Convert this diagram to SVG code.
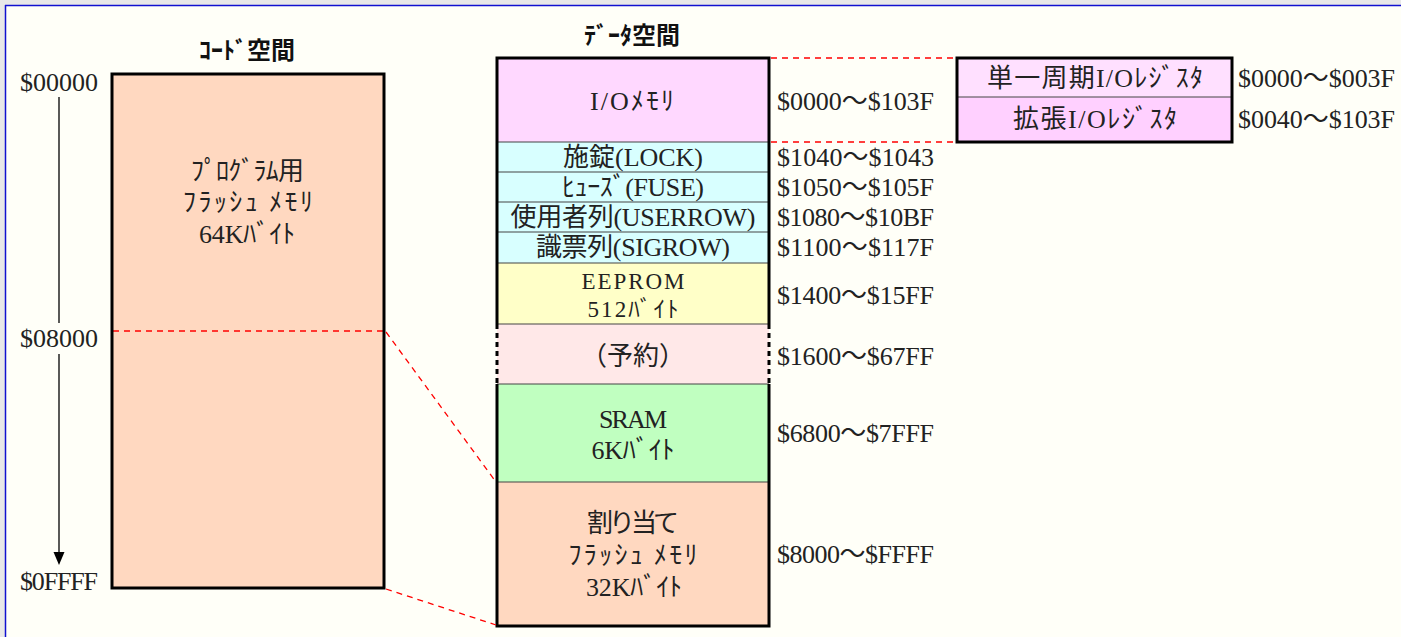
<svg xmlns="http://www.w3.org/2000/svg" width="1401" height="637" viewBox="0 0 1401 637">
<style>
.t{font-family:"Liberation Serif","Noto Sans CJK JP",serif;font-size:26px;fill:#222;}
.s{font-size:23px;}
.c{text-anchor:middle;}
.h{font-family:"Noto Sans CJK JP","Noto Sans",sans-serif;font-size:24px;font-weight:bold;fill:#111;text-anchor:middle;}
.box{stroke:none;}
.div{stroke:#444;stroke-width:1.2;}
.edge{stroke:#000;stroke-width:3;fill:none;}
.red{stroke:#f00;stroke-width:1.3;stroke-dasharray:6 5;fill:none;}
</style>
<rect x="0" y="0" width="1401" height="637" fill="#e8e8e8"/>
<rect x="5" y="5" width="1396" height="632" fill="#fffff8"/>
<line x1="5.5" y1="5" x2="5.5" y2="637" stroke="#1010d0" stroke-width="1.5"/>
<line x1="5" y1="5.5" x2="1401" y2="5.5" stroke="#1010d0" stroke-width="1.5"/>

<g id="title-code"><text class="h" x="247" y="59">ｺｰﾄﾞ空間</text></g>
<g id="title-data"><text class="h" x="632" y="44">ﾃﾞｰﾀ空間</text></g>

<g id="code-axis-labels">
<text class="t c" x="59" y="91" textLength="78">$00000</text>
<text class="t c" x="59" y="347" textLength="78">$08000</text>
<text class="t c" x="59" y="590" textLength="78">$0FFFF</text>
</g>

<g id="code-flash">
<rect x="112" y="74" width="272" height="514" fill="#ffd8c0"/>
<line class="red" x1="113" y1="331" x2="384" y2="331"/>
<rect class="edge" x="112" y="74" width="272" height="514"/>
<text class="t c" x="247" y="180" textLength="113">ﾌﾟﾛｸﾞﾗﾑ用</text>
<text class="t c" x="248" y="211" textLength="130">ﾌﾗｯｼｭ ﾒﾓﾘ</text>
<text class="t c" x="247" y="243" textLength="96">64Kﾊﾞｲﾄ</text>
</g>

<g id="data-io"><rect class="box" x="497" y="58" width="272" height="84" fill="#ffd8ff"/><text class="t c" x="632" y="110" textLength="84">I/Oﾒﾓﾘ</text></g>
<g id="data-lock"><rect class="box" x="497" y="142" width="272" height="30" fill="#d8ffff"/><text class="t c" x="633" y="166" textLength="140">施錠(LOCK)</text></g>
<g id="data-fuse"><rect class="box" x="497" y="172" width="272" height="30" fill="#d8ffff"/><text class="t c" x="633" y="196" textLength="142">ﾋｭｰｽﾞ(FUSE)</text></g>
<g id="data-userrow"><rect class="box" x="497" y="202" width="272" height="30" fill="#d8ffff"/><text class="t c" x="633" y="226" textLength="245">使用者列(USERROW)</text></g>
<g id="data-sigrow"><rect class="box" x="497" y="232" width="272" height="31" fill="#d8ffff"/><text class="t c" x="633" y="256" textLength="194">識票列(SIGROW)</text></g>
<g id="data-eeprom"><rect class="box" x="497" y="263" width="272" height="61" fill="#ffffc8"/><text class="t s c" x="633" y="289" textLength="103">EEPROM</text><text class="t s c" x="633" y="317" textLength="91">512ﾊﾞｲﾄ</text></g>
<g id="data-reserved"><rect class="box" x="497" y="324" width="272" height="60" fill="#ffe8e8"/><text class="t c" x="633" y="365">（予約）</text></g>
<g id="data-sram"><rect class="box" x="497" y="384" width="272" height="98" fill="#c0ffc0"/><text class="t c" x="633" y="428" textLength="68">SRAM</text><text class="t c" x="633" y="459" textLength="83">6Kﾊﾞｲﾄ</text></g>
<g id="data-flash"><rect class="box" x="497" y="482" width="272" height="144" fill="#ffd8c0"/><text class="t c" x="633" y="532" textLength="92">割り当て</text><text class="t c" x="633" y="564" textLength="129">ﾌﾗｯｼｭ ﾒﾓﾘ</text><text class="t c" x="634" y="596" textLength="96">32Kﾊﾞｲﾄ</text></g>

<g id="data-frame">
<line class="div" x1="497" y1="142" x2="769" y2="142"/>
<line class="div" x1="497" y1="172" x2="769" y2="172"/>
<line class="div" x1="497" y1="202" x2="769" y2="202"/>
<line class="div" x1="497" y1="232" x2="769" y2="232"/>
<line class="div" x1="497" y1="263" x2="769" y2="263"/>
<line class="div" x1="497" y1="324" x2="769" y2="324"/>
<line class="div" x1="497" y1="384" x2="769" y2="384"/>
<line class="div" x1="497" y1="482" x2="769" y2="482"/>
<path class="edge" d="M497,324 V58 H769 V324"/>
<path class="edge" d="M497,384 V626 H769 V384"/>
<line class="edge" x1="497" y1="324" x2="497" y2="384" stroke-dasharray="5 4"/>
<line class="edge" x1="769" y1="324" x2="769" y2="384" stroke-dasharray="5 4"/>
</g>

<g id="data-addresses">
<text class="t" x="777" y="110" textLength="157">$0000～$103F</text>
<text class="t" x="777" y="166" textLength="157">$1040～$1043</text>
<text class="t" x="777" y="196" textLength="157">$1050～$105F</text>
<text class="t" x="777" y="226" textLength="157">$1080～$10BF</text>
<text class="t" x="777" y="256" textLength="157">$1100～$117F</text>
<text class="t" x="777" y="304" textLength="157">$1400～$15FF</text>
<text class="t" x="777" y="365" textLength="157">$1600～$67FF</text>
<text class="t" x="777" y="442" textLength="157">$6800～$7FFF</text>
<text class="t" x="777" y="563" textLength="157">$8000～$FFFF</text>
</g>

<g id="io-registers">
<rect x="957" y="58" width="275" height="39" fill="#ffe0ff"/>
<rect x="957" y="97" width="275" height="45" fill="#ffd0ff"/>
<line class="div" x1="957" y1="97" x2="1232" y2="97"/>
<rect class="edge" x="957" y="58" width="275" height="84"/>
<text class="t c" x="1095" y="87" textLength="216">単一周期I/Oﾚｼﾞｽﾀ</text>
<text class="t c" x="1095" y="128" textLength="164">拡張I/Oﾚｼﾞｽﾀ</text>
<text class="t" x="1238" y="87" textLength="157">$0000～$003F</text>
<text class="t" x="1238" y="128" textLength="157">$0040～$103F</text>
</g>

<g id="connectors">
<line class="red" x1="771" y1="58" x2="956" y2="58"/>
<line class="red" x1="771" y1="142" x2="956" y2="142"/>
<line class="red" x1="386" y1="332" x2="496" y2="482"/>
<line class="red" x1="386" y1="589" x2="496" y2="625"/>
<line x1="59" y1="97" x2="59" y2="323" stroke="#000" stroke-width="1.3"/>
<line x1="59" y1="354" x2="59" y2="553" stroke="#000" stroke-width="1.3"/>
<polygon points="53.5,552 64.5,552 59,565" fill="#000"/>
</g>
</svg>
